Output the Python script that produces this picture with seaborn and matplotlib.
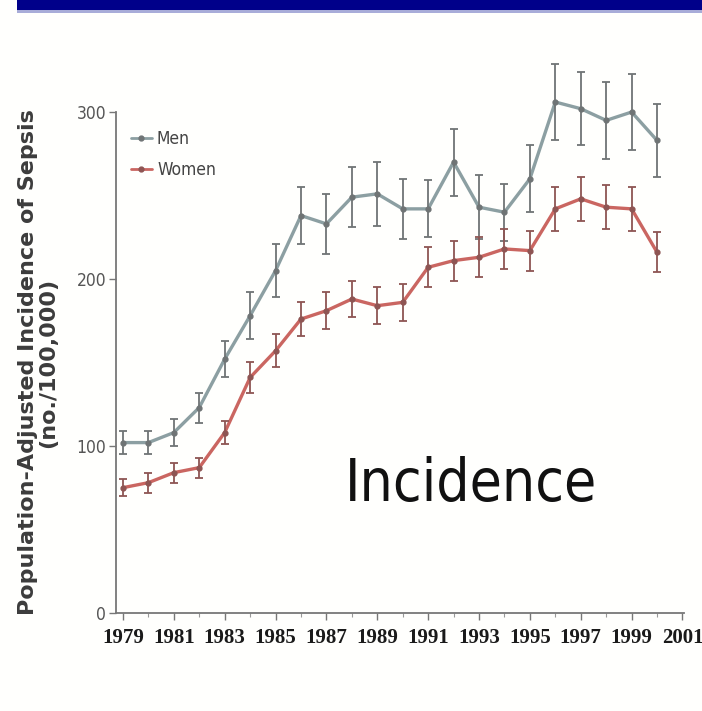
import matplotlib
matplotlib.use("Agg")
import matplotlib.pyplot as plt
import matplotlib.patches as mpatches
from matplotlib.lines import Line2D
from matplotlib.ticker import MultipleLocator
import pandas as pd
import seaborn as sns

# Data
years = list(range(1979, 2001))
men = [102, 102, 108, 123, 152, 178, 205, 238, 233, 249, 251,
       242, 242, 270, 243, 240, 260, 306, 302, 295, 300, 283]
men_err = [7, 7, 8, 9, 11, 14, 16, 17, 18, 18, 19,
           18, 17, 20, 19, 17, 20, 23, 22, 23, 23, 22]
women = [75, 78, 84, 87, 108, 141, 157, 176, 181, 188, 184,
         186, 207, 211, 213, 218, 217, 242, 248, 243, 242, 216]
women_err = [5, 6, 6, 6, 7, 9, 10, 10, 11, 11, 11,
             11, 12, 12, 12, 12, 12, 13, 13, 13, 13, 12]
xtick_labels = [str(y) for y in range(1979, 2002, 2)]

df = pd.DataFrame({"year": years * 2,
                   "value": men + women,
                   "err": men_err + women_err,
                   "sex": ["Men"] * len(years) + ["Women"] * len(years)})

sns.set_style("white")
plt.rcParams["font.family"] = ["DejaVu Sans"]

fig = plt.figure(figsize=(7.02, 7.11), dpi=100)
fig.patch.set_facecolor("#fffffd")

# dark blue banner across the top
fig.patches.append(mpatches.Rectangle((0.024, 0.986), 0.976, 0.014, transform=fig.transFigure,
                                      facecolor="#00008a", edgecolor="none"))
fig.patches.append(mpatches.Rectangle((0.024, 0.982), 0.976, 0.004, transform=fig.transFigure,
                                      facecolor="#a8acd8", edgecolor="none"))

ax = fig.add_axes([0.165, 0.138, 0.809, 0.7866])
ax.set_facecolor("none")

line_col = {"Men": "#8c9fa2", "Women": "#ca6661"}
bar_col = {"Men": "#6f7475", "Women": "#8e5553"}

sns.lineplot(data=df, x="year", y="value", hue="sex", palette=line_col,
             linewidth=2.4, ax=ax, legend=False, zorder=3)

for sex, grp in df.groupby("sex"):
    ax.errorbar(grp["year"], grp["value"], yerr=grp["err"], fmt="o", ms=3.5,
                color=bar_col[sex], ecolor=bar_col[sex], elinewidth=1.3,
                capsize=3, capthick=1.3, zorder=4)

ax.set_xlim(1978.72, 2001.05)
ax.set_ylim(0, 335)
ax.set_yticks([0, 100, 200, 300])
ax.set_xticks(range(1979, 2002, 2))
ax.set_xticklabels(xtick_labels, family=["Liberation Serif", "DejaVu Serif"],
                   fontweight="bold", fontsize=15, color="#1a1a1a")
ax.xaxis.set_minor_locator(MultipleLocator(1))
for lab in ax.get_yticklabels():
    lab.set_family(["DejaVu Sans"])
    lab.set_fontstretch("condensed")
    lab.set_fontsize(12.5)
    lab.set_color("#555555")

ax.tick_params(axis="x", which="major", direction="out", length=5, width=1,
               color="#777777", bottom=True, pad=6)
ax.tick_params(axis="x", which="minor", direction="out", length=3, width=0.8,
               color="#999999", bottom=True)
ax.tick_params(axis="y", direction="out", length=5, width=1, color="#777777",
               left=True, pad=2)

for s in ["top", "right"]:
    ax.spines[s].set_visible(False)
for s in ["left", "bottom"]:
    ax.spines[s].set_color("#777777")
    ax.spines[s].set_linewidth(1.3)
ax.spines["left"].set_bounds(0, 300)

ax.set_ylabel("Population-Adjusted Incidence of Sepsis\n(no./100,000)",
              fontsize=16, fontweight="bold", color="#3c3c3c",
              linespacing=1.0)
ax.yaxis.set_label_coords(-0.102, 300 / 335 / 2)
ax.set_xlabel("")

handles = [Line2D([], [], color=line_col[k], lw=2, marker="o", ms=3.5,
                  markerfacecolor=bar_col[k], markeredgecolor=bar_col[k])
           for k in ["Men", "Women"]]
leg = ax.legend(handles, ["Men", "Women"], loc="upper left",
                bbox_to_anchor=(1978.7, 298.5), bbox_transform=ax.transData,
                frameon=False, handlelength=1.2, handletextpad=0.3, labelspacing=0.75,
                prop={"family": "DejaVu Sans", "stretch": "condensed", "size": 12.5})
for t in leg.get_texts():
    t.set_color("#444444")

ax.text(1992.7, 77, "Incidence", ha="center", va="center",
        fontsize=42, color="#111111", family="DejaVu Sans", fontstretch="condensed")

fig.savefig("out.png", dpi=100, facecolor=fig.get_facecolor())
